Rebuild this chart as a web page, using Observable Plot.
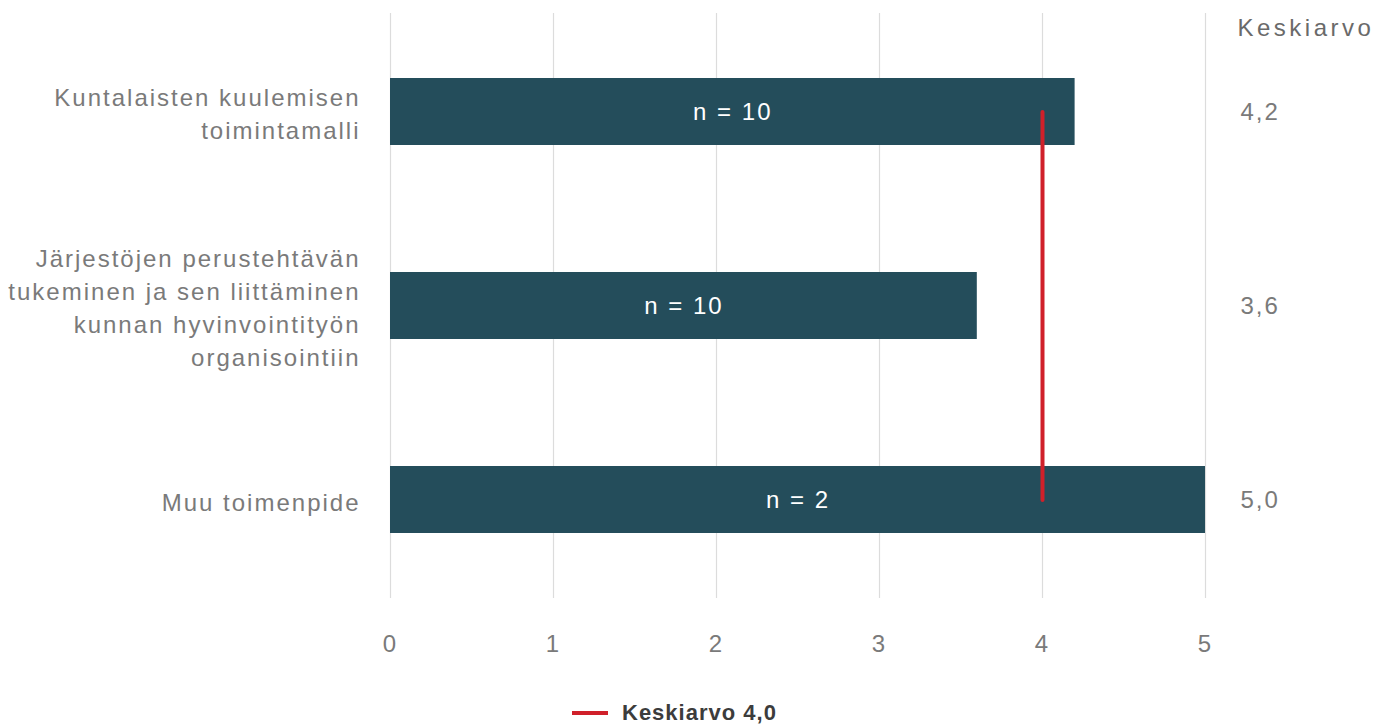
<!DOCTYPE html>
<html>
<head>
<meta charset="utf-8">
<script src="https://cdn.jsdelivr.net/npm/d3@7"></script>
<script src="https://cdn.jsdelivr.net/npm/@observablehq/plot@0.6"></script>
<style>
  html, body { margin: 0; padding: 0; background: #fff; }
  #wrap { position: relative; width: 1391px; height: 724px; font-family: "Liberation Sans", Arial, sans-serif; }
  #legend { position: absolute; left: 572px; top: 700px; display: flex; align-items: center; gap: 14px; font-weight: bold; font-size: 22px; letter-spacing: 1px; color: #3c3c3c; line-height: 26px; }
  #legend .sw { width: 36px; height: 4px; background: #d0202a; }
  svg text { letter-spacing: 2px; }
</style>
</head>
<body>
<div id="wrap">
  <div id="chart"></div>
  <div id="legend"><span class="sw"></span><span id="legend-text"></span></div>
</div>
<script>
const categories = [
  "Kuntalaisten kuulemisen\ntoimintamalli",
  "Järjestöjen perustehtävän\ntukeminen ja sen liittäminen\nkunnan hyvinvointityön\norganisointiin",
  "Muu toimenpide"
];
const means = [4.2, 3.6, 5.0];
const meanLabels = ["4,2", "3,6", "5,0"];
const counts = [10, 10, 2];
const overallMean = 4.0;
const overallMeanLabel = "Keskiarvo 4,0";
const headerLabel = "Keskiarvo";
const xTicks = [0, 1, 2, 3, 4, 5];

const data = categories.map((c, i) => ({cat: c, mean: means[i], meanLabel: meanLabels[i], n: counts[i]}));

const barColor = "#244d5b";
const textGrey = "#7a7a7a";

const chart = Plot.plot({
  width: 1391,
  height: 670,
  marginLeft: 390,
  marginRight: 186,
  marginTop: 13,
  marginBottom: 72,
  style: {fontFamily: "Liberation Sans, Arial, sans-serif", fontSize: "24px", color: textGrey, background: "#fff"},
  x: {domain: [0, 5], ticks: xTicks, tickFormat: d => String(d), label: null, grid: false},
  y: {domain: categories, paddingInner: 0.655, paddingOuter: 0.33, label: null, axis: null},
  marks: [
    Plot.ruleX(xTicks, {stroke: "#dcdcdc", strokeWidth: 1.2}),
    Plot.axisX({ticks: xTicks, tickSize: 0, tickPadding: 36, tickFormat: d => String(d), fontSize: 24, fill: textGrey, label: null}),
    Plot.barX(data, {x: "mean", y: "cat", fill: barColor}),
    Plot.text(data, {x: d => d.mean / 2, y: "cat", text: d => `n = ${d.n}`, fill: "white", fontSize: 24}),
    Plot.line([{x: overallMean, y: categories[0]}, {x: overallMean, y: categories[categories.length - 1]}], {x: "x", y: "y", stroke: "#d0202a", strokeWidth: 4, strokeLinecap: "round"}),
    Plot.text(data, {y: "cat", text: "cat", frameAnchor: "left", dx: -30, textAnchor: "end", lineHeight: 1.38, fill: textGrey, fontSize: 24}),
    Plot.text(data, {y: "cat", text: "meanLabel", frameAnchor: "right", dx: 35, textAnchor: "start", fill: textGrey, fontSize: 24}),
    Plot.text([headerLabel], {text: d => d, frameAnchor: "top-right", dx: 32, dy: 5, textAnchor: "start", fill: "#6a6a6a", fontSize: 24})
  ]
});
chart.querySelectorAll("text").forEach(t => {
  if (t.textContent === headerLabel) t.style.letterSpacing = "3.5px";
});
document.getElementById("chart").appendChild(chart);
document.getElementById("legend-text").textContent = overallMeanLabel;
</script>
</body>
</html>
